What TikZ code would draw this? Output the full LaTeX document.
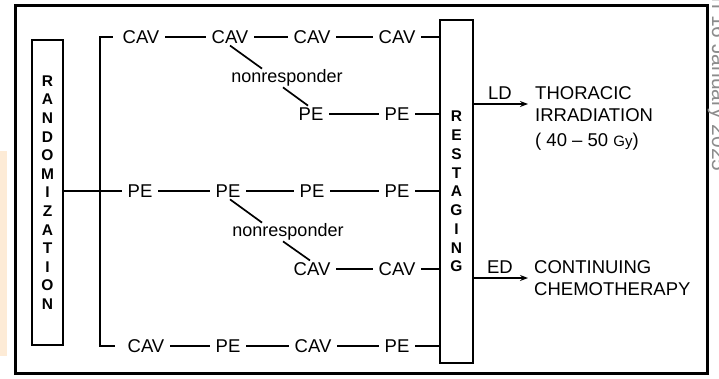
\documentclass[tikz,border=0pt]{standalone}
\usepackage{fontspec}
\setmainfont{Liberation Sans}
\usetikzlibrary{calc,arrows.meta}
\definecolor{tintc}{HTML}{FDEBD6}
\definecolor{wmgray}{HTML}{8C8C8C}
\begin{document}
\begin{tikzpicture}[x=1pt,y=-1pt,
  lbl/.style={font=\fontsize{18.5}{20}\selectfont, inner xsep=6pt, inner ysep=2pt, outer sep=0pt},
  nr/.style={font=\fontsize{18}{20}\selectfont, inner xsep=2pt, inner ysep=1pt, outer sep=0pt},
  rt/.style={font=\fontsize{18.5}{20}\selectfont, inner sep=0pt, anchor=base west},
  ln/.style={line width=1.7pt},
  vbox/.style={draw, line width=2pt, align=center, inner sep=0pt},
  arr/.style={line width=1.4pt, -{Stealth[length=8pt,width=6pt]}},
  wm/.style={font=\fontsize{21}{22}\selectfont, text=wmgray, inner sep=0pt}]
\useasboundingbox (0,0) rectangle (719,378);
\fill[white] (0,0) rectangle (719,378);
\fill[tintc] (0,151) rectangle (7,356);
% outer frame
\draw[line width=3pt] (15,5) rectangle (707,373);
% watermark
\node[wm, rotate=-90, anchor=base west] (wmk) at (712,-2.5) {n 16 January 2025};
% boxes
\node[vbox, minimum width=31pt, minimum height=305pt, font=\fontsize{15.5}{18.6}\bfseries\selectfont] (rand) at (47.5,192.5) {R\\A\\N\\D\\O\\M\\I\\Z\\A\\T\\I\\O\\N};
\node[vbox, minimum width=33pt, minimum height=343pt, font=\fontsize{15.5}{18.75}\bfseries\selectfont] (rs) at (456.5,191.5) {R\\E\\S\\T\\A\\G\\I\\N\\G};
% row nodes
\node[lbl] (a1) at (141,37) {CAV};
\node[lbl] (a2) at (230,37) {CAV};
\node[lbl] (a3) at (312,37) {CAV};
\node[lbl] (a4) at (397,37) {CAV};
\node[lbl] (b1) at (311,114) {PE};
\node[lbl] (b2) at (397,114) {PE};
\node[lbl] (c1) at (140,191) {PE};
\node[lbl] (c2) at (228,191) {PE};
\node[lbl] (c3) at (312,191) {PE};
\node[lbl] (c4) at (397,191) {PE};
\node[lbl] (d1) at (312,269) {CAV};
\node[lbl] (d2) at (397,269) {CAV};
\node[lbl] (e1) at (146,346) {CAV};
\node[lbl] (e2) at (228,346) {PE};
\node[lbl] (e3) at (313,346) {CAV};
\node[lbl] (e4) at (397,346) {PE};
\node[nr] (n1) at (287,78) {nonresponder};
\node[nr] (n2) at (288,232) {nonresponder};
% bracket
\coordinate (bt) at (100,37);
\coordinate (bb) at (100,346);
\draw[ln] ([xshift=-4pt]a1.west) -- (bt) -- (bb) -- ([xshift=-7pt]e1.west);
\draw[ln] (rand.east |- c1) -- (c1);
% rows
\draw[ln] (a1) -- (a2);
\draw[ln] (a2) -- (a3);
\draw[ln] (a3) -- (a4);
\draw[ln] (a4) -- (a4 -| rs.west);
\draw[ln] (b1) -- (b2);
\draw[ln] (b2) -- (b2 -| rs.west);
\draw[ln] (c1) -- (c2);
\draw[ln] (c2) -- (c3);
\draw[ln] (c3) -- (c4);
\draw[ln] (c4) -- (c4 -| rs.west);
\draw[ln] (d1) -- (d2);
\draw[ln] (d2) -- (d2 -| rs.west);
\draw[ln] (e1) -- (e2);
\draw[ln] (e2) -- (e3);
\draw[ln] (e3) -- (e4);
\draw[ln] (e4) -- (e4 -| rs.west);
% nonresponder links
\draw[ln] (a2.south) -- ([xshift=-25pt]n1.north);
\draw[ln] ([xshift=-4pt]n1.south) -- ([xshift=-3pt]b1.north);
\draw[ln] ([xshift=2pt]c2.south) -- ([xshift=-26pt]n2.north);
\draw[ln] ([xshift=-5pt]n2.south) -- ([xshift=-2pt]d1.north);
% outcomes
\coordinate (ldend) at (528,104);
\coordinate (edend) at (528,278);
\draw[arr] (rs.east |- ldend) -- (ldend);
\draw[arr] (rs.east |- edend) -- (edend);
\node[font=\fontsize{18.5}{20}\selectfont, inner sep=0pt] (ld) at (500,93) {LD};
\node[font=\fontsize{18.5}{20}\selectfont, inner sep=0pt] (ed) at (500,267) {ED};
\node[rt] (t1) at (535,99.6) {THORACIC};
\node[rt] (t2) at (535,121.6) {IRRADIATION};
\node[rt] (t3) at (535,146.5) {( 40 – 50 {\fontsize{15}{16}\selectfont Gy})};
\node[rt] (u1) at (534,273.6) {CONTINUING};
\node[rt] (u2) at (534,295.6) {CHEMOTHERAPY};
\end{tikzpicture}
\end{document}
